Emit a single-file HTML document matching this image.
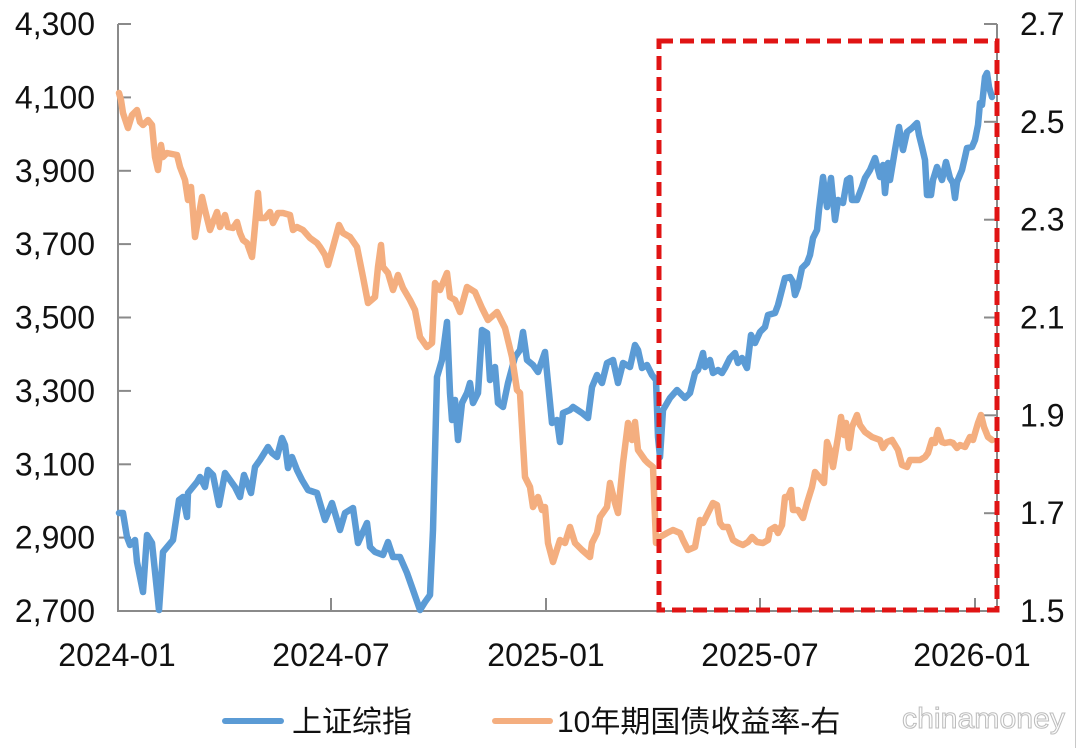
<!DOCTYPE html>
<html>
<head>
<meta charset="utf-8">
<style>
html,body{margin:0;padding:0;background:#fff;}
svg{display:block;}
</style>
</head>
<body>
<svg width="1080" height="748" viewBox="0 0 1080 748" xmlns="http://www.w3.org/2000/svg">
<rect width="1080" height="748" fill="#fff"/>
<line x1="1075.5" y1="0" x2="1075.5" y2="748" stroke="#c8c8c8" stroke-width="1"/>
<!-- axes -->
<g stroke="#8a8a8a" stroke-width="2" fill="none">
<line x1="118" y1="24" x2="118" y2="612"/>
<line x1="997" y1="24" x2="997" y2="612"/>
<line x1="117" y1="611" x2="998" y2="611"/>
<line x1="118" y1="24" x2="131" y2="24"/>
<line x1="118" y1="97.4" x2="131" y2="97.4"/>
<line x1="118" y1="170.8" x2="131" y2="170.8"/>
<line x1="118" y1="244.1" x2="131" y2="244.1"/>
<line x1="118" y1="317.5" x2="131" y2="317.5"/>
<line x1="118" y1="390.9" x2="131" y2="390.9"/>
<line x1="118" y1="464.3" x2="131" y2="464.3"/>
<line x1="118" y1="537.6" x2="131" y2="537.6"/>
<line x1="984" y1="24" x2="997" y2="24"/>
<line x1="984" y1="121.8" x2="997" y2="121.8"/>
<line x1="984" y1="219.7" x2="997" y2="219.7"/>
<line x1="984" y1="317.5" x2="997" y2="317.5"/>
<line x1="984" y1="415.3" x2="997" y2="415.3"/>
<line x1="984" y1="513.2" x2="997" y2="513.2"/>
<line x1="331" y1="598" x2="331" y2="611"/>
<line x1="546" y1="598" x2="546" y2="611"/>
<line x1="760" y1="598" x2="760" y2="611"/>
<line x1="975" y1="598" x2="975" y2="611"/>
</g>
<g font-family="Liberation Sans, Arial, sans-serif" font-size="32" fill="#111" text-anchor="end">
<text x="95" y="35">4,300</text>
<text x="95" y="108.4">4,100</text>
<text x="95" y="181.8">3,900</text>
<text x="95" y="255.1">3,700</text>
<text x="95" y="328.5">3,500</text>
<text x="95" y="401.9">3,300</text>
<text x="95" y="475.3">3,100</text>
<text x="95" y="548.6">2,900</text>
<text x="95" y="622">2,700</text>
</g>
<g font-family="Liberation Sans, Arial, sans-serif" font-size="32" fill="#111" text-anchor="start">
<text x="1020" y="35">2.7</text>
<text x="1020" y="132.8">2.5</text>
<text x="1020" y="230.7">2.3</text>
<text x="1020" y="328.5">2.1</text>
<text x="1020" y="426.3">1.9</text>
<text x="1020" y="524.2">1.7</text>
<text x="1020" y="622">1.5</text>
</g>
<g font-family="Liberation Sans, Arial, sans-serif" font-size="32" fill="#111" text-anchor="middle">
<text x="117" y="666">2024-01</text>
<text x="331" y="666">2024-07</text>
<text x="546" y="666">2025-01</text>
<text x="760" y="666">2025-07</text>
<text x="972" y="666">2026-01</text>
</g>
<polyline fill="none" stroke="#5b9bd5" stroke-width="6.5" stroke-linejoin="round" stroke-linecap="round" points="119,513 123,513 127,537 130,545 135,540 137,562 143,592 147,535 152,543 159,610 163,552 173,540 179,500 183,497 187,517 188,493 197,482 200,477 205,487 208,470 213,475 219,505 225,473 235,487 240,497 244,475 251,493 255,467 260,460 268,447 272,453 277,457 282,438 285,445 288,468 292,457 297,470 302,480 308,490 317,493 325,520 332,503 340,530 345,513 353,508 358,543 367,523 370,547 375,552 383,555 388,542 393,557 400,557 407,573 413,590 420,610 425,602 430,595 433,530 437,377 442,360 447,322 450,393 452,420 455,400 458,440 462,403 467,393 470,383 473,403 478,393 482,330 487,333 490,380 495,367 498,403 503,407 508,383 515,357 520,350 523,332 527,360 533,365 538,372 545,352 552,423 557,420 560,442 563,413 570,410 573,407 582,413 588,418 592,387 597,375 602,383 607,363 613,360 618,383 623,363 630,367 635,345 638,350 642,368 647,365 652,375 656,380 658,437 660,457 663,410 670,398 677,390 685,398 690,393 695,373 698,370 703,353 705,367 710,360 713,373 718,370 722,373 725,368 730,358 735,353 738,363 742,358 747,368 751,335 755,343 760,332 765,327 768,315 775,313 778,305 785,278 790,277 793,282 795,295 798,287 802,268 807,263 810,255 813,238 817,230 819,210 823,177 827,207 831,178 835,220 838,200 843,203 847,180 850,178 852,200 857,200 862,187 865,178 870,170 875,158 880,177 883,165 885,193 888,163 890,180 895,150 899,127 903,150 907,132 912,128 917,123 919,135 922,147 925,160 927,195 931,195 933,180 937,167 940,175 942,180 946,162 950,178 953,183 955,198 957,182 962,170 965,157 967,148 972,147 975,140 978,125 980,103 982,105 985,77 987,73 989,87 992,97"/>
<polyline fill="none" stroke="#f4ae7f" stroke-width="6.5" stroke-linejoin="round" stroke-linecap="round" points="119,93 121,100 123,113 128,128 132,115 137,110 140,122 143,125 148,120 152,125 155,157 158,170 161,145 163,157 167,153 177,155 180,167 185,180 188,200 191,187 195,237 202,197 205,210 210,230 217,212 220,227 225,215 228,227 233,228 237,222 240,233 243,240 247,243 252,257 254,237 258,193 260,218 265,218 270,212 273,223 278,213 283,213 290,215 293,230 297,227 303,230 310,238 317,243 320,247 325,255 328,265 333,247 339,225 343,233 350,237 357,247 363,277 368,303 375,297 378,267 381,245 383,267 388,273 393,290 398,275 403,288 410,300 415,310 420,337 427,347 432,343 435,283 440,290 447,273 450,297 455,300 460,312 467,287 475,292 482,308 488,320 497,312 505,328 512,357 517,390 520,393 525,477 530,487 533,507 538,497 542,510 545,507 548,543 553,562 560,540 565,543 570,527 575,543 582,550 590,557 592,543 597,533 600,517 607,507 610,483 615,503 618,513 623,463 628,423 632,440 635,422 638,450 645,460 648,463 653,467 656,543 660,537 667,533 673,530 680,533 683,540 688,550 695,547 700,520 703,523 708,513 713,503 717,505 720,523 723,527 728,527 733,540 738,543 743,545 748,542 752,537 757,542 763,543 768,540 770,530 775,527 778,533 782,525 785,497 788,497 791,490 793,510 798,510 803,518 807,503 812,487 815,472 820,478 824,483 827,442 830,450 833,467 838,437 841,417 844,435 846,423 849,448 852,427 857,415 860,425 865,432 872,437 880,440 883,448 887,442 892,440 895,445 898,450 902,465 907,467 910,460 915,460 920,460 925,457 928,453 932,440 935,443 938,430 942,442 945,443 950,442 953,443 957,448 960,445 965,447 970,437 973,440 978,423 981,415 984,427 988,437 992,440"/>
<rect x="659" y="41" width="338" height="569" fill="none" stroke="#e01414" stroke-width="5" stroke-dasharray="14 7"/>
<line x1="225" y1="721" x2="281" y2="721" stroke="#5b9bd5" stroke-width="6" stroke-linecap="round"/>
<text x="292" y="732" font-family="Liberation Sans, Noto Sans CJK SC, sans-serif" font-size="30" fill="#111">上证综指</text>
<line x1="495" y1="721" x2="550" y2="721" stroke="#f4ae7f" stroke-width="6" stroke-linecap="round"/>
<text x="557" y="732" font-family="Liberation Sans, Noto Sans CJK SC, sans-serif" font-size="30" fill="#111">10年期国债收益率-右</text>
<text x="902" y="728" font-family="Liberation Sans, Arial, sans-serif" font-size="29" fill="#fdfdfd" stroke="#bdbdbd" stroke-width="1" textLength="163" lengthAdjust="spacingAndGlyphs">chinamoney</text>
</svg>
</body>
</html>
